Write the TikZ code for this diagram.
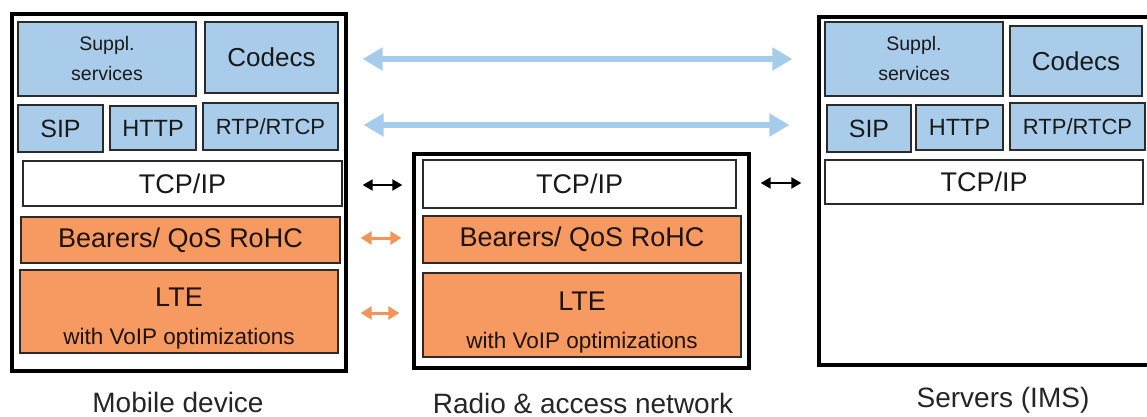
\documentclass[tikz,border=0pt]{standalone}
\usepackage{fontspec}
\setmainfont{Liberation Sans}
\usetikzlibrary{arrows.meta}
\definecolor{boxblue}{HTML}{A9CCEA}
\definecolor{boxorange}{HTML}{F79A62}
\definecolor{arrblue}{HTML}{A6CCEC}
\definecolor{arrorange}{HTML}{F3955A}
\definecolor{edgegray}{HTML}{2B2B2B}
\tikzset{
  layer/.style={draw=edgegray, line width=1.3pt, inner sep=0pt, text=black!90, font=\fontsize{27}{29}\selectfont},
  bluebox/.style={layer, fill=boxblue},
  orangebox/.style={layer, fill=boxorange, text=black!85!brown},
  whitebox/.style={layer, fill=white},
  outerbox/.style={draw=black, line width=4.5pt, inner sep=0pt, fill=white},
  caption/.style={font=\fontsize{28}{30}\selectfont, text=black!85, inner sep=0pt, anchor=base},
  bigarrow/.style={draw=arrblue, line width=6pt, {Triangle[width=22pt,length=20pt]}-{Triangle[width=22pt,length=20pt]}},
  smallarrow/.style={line width=2pt, {Triangle[width=11pt,length=10pt]}-{Triangle[width=11pt,length=10pt]}},
  orangearrow/.style={draw=arrorange, line width=3pt, {Triangle[width=13pt,length=11pt]}-{Triangle[width=13pt,length=11pt]}},
  ltetext/.style={align=center, font=\fontsize{27}{38}\selectfont},
}
\newcommand{\ltelines}{\rule{0pt}{33pt}LTE\\\fontsize{22.5}{38}\selectfont with VoIP optimizations}
\begin{document}
\begin{tikzpicture}[x=1pt,y=-1pt]
\useasboundingbox (0,0) rectangle (1147,417);
% outer boxes
\node[outerbox, minimum width=334pt, minimum height=357pt] (mobile) at (179,192.5) {};
\node[outerbox, minimum width=335pt, minimum height=214pt] (radio) at (581.5,261) {};
\node[draw=none, fill=white, inner sep=0pt, minimum width=328pt, minimum height=348pt] (servers) at (983,191) {};
\draw[line width=4.5pt, line cap=rect] (servers.north east) -- (servers.north west) -- (servers.south west) -- (servers.south east);
% mobile device
\node[bluebox, minimum width=178pt, minimum height=74pt, align=center, font=\fontsize{19.5}{30}\selectfont] (supplM) at (107,59) {Suppl.\\services};
\node[bluebox, minimum width=133pt, minimum height=71pt, font=\fontsize{26}{28}\selectfont] (codecsM) at (271.5,57.5) {Codecs};
\node[bluebox, minimum width=85pt, minimum height=47pt, font=\fontsize{25}{27}\selectfont] (sipM) at (60.5,128.5) {SIP};
\node[bluebox, minimum width=86pt, minimum height=44pt, font=\fontsize{23.5}{25}\selectfont] (httpM) at (153,128) {HTTP};
\node[bluebox, minimum width=135pt, minimum height=47pt, font=\fontsize{22}{24}\selectfont] (rtpM) at (270.5,126.5) {RTP/RTCP};
\node[whitebox, minimum width=319pt, minimum height=45pt] (tcpM) at (182.5,183.5) {TCP/IP};
\node[orangebox, minimum width=319pt, minimum height=46pt] (bearM) at (180.5,240) {Bearers/ QoS RoHC};
\node[orangebox, ltetext, minimum width=318pt, minimum height=83pt] (lteM) at (179,311.5) {\ltelines};
% radio & access network
\node[whitebox, minimum width=313pt, minimum height=48pt] (tcpR) at (579.5,184) {TCP/IP};
\node[orangebox, minimum width=318pt, minimum height=47pt] (bearR) at (582,239.5) {Bearers/ QoS RoHC};
\node[orangebox, ltetext, minimum width=318pt, minimum height=84pt] (lteR) at (582,315) {\ltelines};
% servers
\node[bluebox, minimum width=178pt, minimum height=74pt, align=center, font=\fontsize{19.5}{30}\selectfont] (supplS) at (914,59) {Suppl.\\services};
\node[bluebox, minimum width=132pt, minimum height=70pt, font=\fontsize{26}{28}\selectfont] (codecsS) at (1076,61) {Codecs};
\node[bluebox, minimum width=84pt, minimum height=47pt, font=\fontsize{25}{27}\selectfont] (sipS) at (869,128.5) {SIP};
\node[bluebox, minimum width=87pt, minimum height=45pt, font=\fontsize{23.5}{25}\selectfont] (httpS) at (959.5,127.5) {HTTP};
\node[bluebox, minimum width=135pt, minimum height=47pt, font=\fontsize{22}{24}\selectfont] (rtpS) at (1077.5,126.5) {RTP/RTCP};
\node[whitebox, minimum width=318pt, minimum height=44pt] (tcpS) at (984,182) {TCP/IP};
% captions
\node[caption] (mobileL) at (178,412) {Mobile device};
\node[caption] (radioL) at (583,413) {Radio \& access network};
\node[caption] (serversL) at (1003,407) {Servers (IMS)};
% arrows
\draw[bigarrow, shorten <=24pt, shorten >=32pt] (codecsM.east |- 0,59) -- (supplS.west |- 0,59);
\draw[bigarrow, shorten <=25pt, shorten >=37pt] (rtpM.east |- 0,125) -- (sipS.west |- 0,125);
\draw[smallarrow, black, shorten <=20pt, shorten >=20pt] (tcpM.east |- 0,185) -- (tcpR.west |- 0,185);
\draw[orangearrow, shorten <=20pt, shorten >=21pt] (bearM.east |- 0,238) -- (bearR.west |- 0,238);
\draw[orangearrow, shorten <=22pt, shorten >=23pt] (lteM.east |- 0,313) -- (lteR.west |- 0,313);
\draw[smallarrow, black, shorten <=24pt, shorten >=23pt] (tcpR.east |- 0,183) -- (tcpS.west |- 0,183);
\end{tikzpicture}
\end{document}
